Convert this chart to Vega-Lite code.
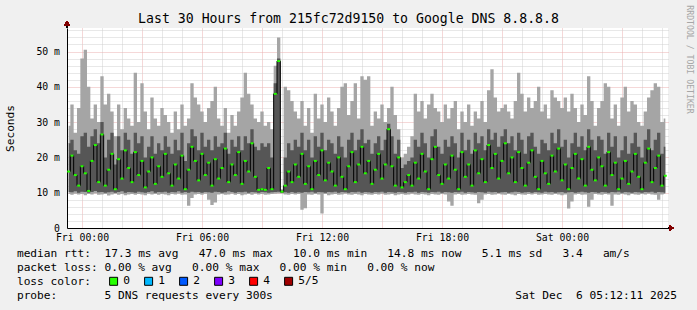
{
"$schema": "https://vega.github.io/schema/vega-lite/v6.json",
"width": 601,
"height": 200,
"autosize": {"type": "none"},
"padding": {"left": 67, "top": 28, "right": 29, "bottom": 82},
"background": "#f0f0f0",
"title": {"text": "Last 30 Hours from 215fc72d9150 to Google DNS 8.8.8.8", "anchor": "middle", "frame": "group", "dx": -19, "offset": -31, "baseline": "alphabetic", "font": "DejaVu Sans Mono", "fontSize": 13.2, "fontWeight": "normal", "color": "#000000"},
"data": {"values": [
{"t":-40,"lo":9.6,"q1":10.2,"md":16,"q3":24,"hi":29},
{"t":-30,"lo":9.4,"q1":10.1,"md":20.5,"q3":25,"hi":35},
{"t":-20,"lo":9.7,"q1":10.4,"md":15,"q3":22,"hi":27},
{"t":-10,"lo":9.5,"q1":10.0,"md":12,"q3":21,"hi":34},
{"t":0,"lo":9.6,"q1":10.3,"md":17.5,"q3":26,"hi":48},
{"t":10,"lo":9.3,"q1":10.2,"md":15.5,"q3":27,"hi":50.5},
{"t":20,"lo":9.6,"q1":10.0,"md":10.5,"q3":23,"hi":40},
{"t":30,"lo":9.5,"q1":10.2,"md":19,"q3":26,"hi":31},
{"t":40,"lo":9.8,"q1":10.5,"md":23.5,"q3":28,"hi":35},
{"t":50,"lo":9.4,"q1":10.1,"md":13,"q3":24,"hi":30},
{"t":60,"lo":9.5,"q1":10.2,"md":26.5,"q3":30,"hi":43},
{"t":70,"lo":9.6,"q1":10.0,"md":12,"q3":20,"hi":35},
{"t":80,"lo":9.2,"q1":10.1,"md":16.5,"q3":25,"hi":38},
{"t":90,"lo":9.5,"q1":10.3,"md":21,"q3":27,"hi":33},
{"t":100,"lo":9.7,"q1":10.0,"md":11,"q3":18,"hi":26},
{"t":110,"lo":9.4,"q1":10.2,"md":19.5,"q3":26,"hi":35},
{"t":120,"lo":9.6,"q1":10.4,"md":14,"q3":22,"hi":28},
{"t":130,"lo":9.3,"q1":10.0,"md":22,"q3":27,"hi":34},
{"t":140,"lo":9.5,"q1":10.2,"md":17,"q3":25,"hi":31},
{"t":150,"lo":9.6,"q1":10.1,"md":13,"q3":21,"hi":29},
{"t":160,"lo":9.4,"q1":10.0,"md":21.5,"q3":27,"hi":44},
{"t":170,"lo":9.6,"q1":10.3,"md":15,"q3":24,"hi":30},
{"t":180,"lo":9.5,"q1":10.1,"md":19,"q3":26,"hi":41},
{"t":190,"lo":9.3,"q1":10.0,"md":11.5,"q3":20,"hi":33},
{"t":200,"lo":9.7,"q1":10.2,"md":16,"q3":23,"hi":28},
{"t":210,"lo":9.5,"q1":10.4,"md":20,"q3":26,"hi":37},
{"t":220,"lo":9.6,"q1":10.0,"md":12.5,"q3":21,"hi":31},
{"t":230,"lo":9.4,"q1":10.2,"md":17.5,"q3":24,"hi":29},
{"t":240,"lo":9.6,"q1":10.1,"md":14.5,"q3":22,"hi":34},
{"t":250,"lo":9.5,"q1":10.3,"md":21,"q3":26,"hi":32},
{"t":260,"lo":9.3,"q1":10.0,"md":15.5,"q3":23,"hi":30},
{"t":270,"lo":9.6,"q1":10.2,"md":12,"q3":21,"hi":27},
{"t":280,"lo":9.5,"q1":10.1,"md":18,"q3":25,"hi":33},
{"t":290,"lo":9.7,"q1":10.4,"md":14,"q3":22,"hi":28},
{"t":300,"lo":9.4,"q1":10.0,"md":20.5,"q3":27,"hi":35},
{"t":310,"lo":9.5,"q1":10.2,"md":11,"q3":19,"hi":29},
{"t":320,"lo":6.3,"q1":10.0,"md":16.5,"q3":24,"hi":31},
{"t":330,"lo":8.5,"q1":10.3,"md":23,"q3":28,"hi":41},
{"t":340,"lo":9.5,"q1":10.1,"md":19,"q3":26,"hi":37},
{"t":350,"lo":9.6,"q1":10.2,"md":13.5,"q3":22,"hi":35},
{"t":360,"lo":9.4,"q1":10.0,"md":21,"q3":27,"hi":33},
{"t":370,"lo":9.7,"q1":10.2,"md":15,"q3":23,"hi":30},
{"t":380,"lo":8.0,"q1":10.1,"md":18.5,"q3":25,"hi":34},
{"t":390,"lo":6.5,"q1":10.0,"md":12,"q3":22,"hi":36},
{"t":400,"lo":7.2,"q1":10.3,"md":19.5,"q3":26,"hi":40},
{"t":410,"lo":9.5,"q1":10.2,"md":14,"q3":23,"hi":31},
{"t":420,"lo":9.6,"q1":10.0,"md":17,"q3":24,"hi":29},
{"t":430,"lo":9.4,"q1":10.1,"md":22.5,"q3":27,"hi":34},
{"t":440,"lo":9.5,"q1":10.4,"md":13,"q3":21,"hi":27},
{"t":450,"lo":9.7,"q1":10.2,"md":18,"q3":25,"hi":32},
{"t":460,"lo":9.4,"q1":10.0,"md":15,"q3":23,"hi":29},
{"t":470,"lo":9.6,"q1":10.2,"md":21.5,"q3":26,"hi":33},
{"t":480,"lo":9.3,"q1":10.1,"md":12.5,"q3":22,"hi":37},
{"t":490,"lo":9.5,"q1":10.3,"md":19,"q3":26,"hi":44},
{"t":500,"lo":9.6,"q1":10.0,"md":16,"q3":24,"hi":38},
{"t":510,"lo":9.4,"q1":10.2,"md":24,"q3":28,"hi":35},
{"t":520,"lo":9.7,"q1":10.1,"md":14.5,"q3":23,"hi":31},
{"t":530,"lo":9.5,"q1":10.0,"md":10.8,"q3":22,"hi":30},
{"t":540,"lo":9.6,"q1":10.2,"md":11,"q3":24,"hi":33},
{"t":550,"lo":9.4,"q1":10.1,"md":10.8,"q3":23,"hi":29},
{"t":560,"lo":9.5,"q1":10.0,"md":17,"q3":24,"hi":30},
{"t":570,"lo":9.6,"q1":10.1,"md":11,"q3":20,"hi":28},
{"t":580,"lo":9.7,"q1":10.2,"md":38,"q3":41,"hi":46},
{"t":590,"lo":9.8,"q1":10.3,"md":47.3,"q3":48,"hi":54},
{"t":600,"lo":9.8,"q1":10.0,"md":10.3,"q3":10.6,"hi":11},
{"t":610,"lo":9.5,"q1":10.1,"md":12,"q3":20,"hi":40},
{"t":620,"lo":9.4,"q1":10.0,"md":16,"q3":24,"hi":39},
{"t":630,"lo":9.6,"q1":10.2,"md":13,"q3":22,"hi":36},
{"t":640,"lo":9.5,"q1":10.0,"md":18,"q3":25,"hi":33},
{"t":650,"lo":9.6,"q1":10.1,"md":14.5,"q3":23,"hi":31},
{"t":660,"lo":5.2,"q1":10.0,"md":21,"q3":27,"hi":36},
{"t":670,"lo":5.6,"q1":10.2,"md":12.5,"q3":22,"hi":29},
{"t":680,"lo":9.5,"q1":10.1,"md":17.5,"q3":25,"hi":34},
{"t":690,"lo":9.4,"q1":10.3,"md":11,"q3":20,"hi":27},
{"t":700,"lo":9.6,"q1":10.0,"md":19,"q3":26,"hi":38},
{"t":710,"lo":9.5,"q1":10.2,"md":15,"q3":23,"hi":31},
{"t":720,"lo":4.1,"q1":10.1,"md":22,"q3":27,"hi":35},
{"t":730,"lo":9.6,"q1":10.0,"md":13.5,"q3":22,"hi":30},
{"t":740,"lo":9.3,"q1":10.2,"md":18.5,"q3":25,"hi":37},
{"t":750,"lo":9.5,"q1":10.1,"md":16,"q3":24,"hi":33},
{"t":760,"lo":9.6,"q1":10.3,"md":12,"q3":21,"hi":29},
{"t":770,"lo":9.4,"q1":10.0,"md":20,"q3":26,"hi":34},
{"t":780,"lo":9.5,"q1":10.2,"md":14.5,"q3":23,"hi":40},
{"t":790,"lo":9.7,"q1":10.1,"md":11,"q3":20,"hi":41},
{"t":800,"lo":9.5,"q1":10.0,"md":17.5,"q3":25,"hi":32},
{"t":810,"lo":9.4,"q1":10.2,"md":21.5,"q3":27,"hi":36},
{"t":820,"lo":9.6,"q1":10.1,"md":13,"q3":22,"hi":41},
{"t":830,"lo":9.5,"q1":10.3,"md":18,"q3":25,"hi":31},
{"t":840,"lo":9.3,"q1":10.0,"md":23,"q3":28,"hi":43},
{"t":850,"lo":9.6,"q1":10.2,"md":15.5,"q3":24,"hi":42},
{"t":860,"lo":9.5,"q1":10.1,"md":19,"q3":25,"hi":43},
{"t":870,"lo":9.4,"q1":10.0,"md":12.5,"q3":21,"hi":29},
{"t":880,"lo":9.6,"q1":10.2,"md":16.5,"q3":24,"hi":33},
{"t":890,"lo":9.5,"q1":10.1,"md":21,"q3":26,"hi":31},
{"t":900,"lo":9.7,"q1":10.3,"md":14,"q3":22,"hi":35},
{"t":910,"lo":9.4,"q1":10.0,"md":18,"q3":25,"hi":30},
{"t":920,"lo":9.5,"q1":10.2,"md":28,"q3":29.5,"hi":34},
{"t":930,"lo":9.6,"q1":10.1,"md":17.5,"q3":26,"hi":40},
{"t":940,"lo":9.3,"q1":10.0,"md":12,"q3":21,"hi":32},
{"t":950,"lo":9.5,"q1":10.2,"md":20,"q3":25,"hi":28},
{"t":960,"lo":9.6,"q1":10.1,"md":11.5,"q3":17,"hi":20},
{"t":970,"lo":9.4,"q1":10.0,"md":13,"q3":18,"hi":21},
{"t":980,"lo":9.5,"q1":10.2,"md":15,"q3":19,"hi":23},
{"t":990,"lo":9.7,"q1":10.1,"md":12,"q3":20,"hi":26},
{"t":1000,"lo":9.5,"q1":10.3,"md":18.5,"q3":25,"hi":38},
{"t":1010,"lo":9.4,"q1":10.0,"md":14,"q3":23,"hi":33},
{"t":1020,"lo":9.6,"q1":10.2,"md":21,"q3":27,"hi":36},
{"t":1030,"lo":9.5,"q1":10.1,"md":16,"q3":24,"hi":31},
{"t":1040,"lo":9.3,"q1":10.0,"md":11,"q3":20,"hi":35},
{"t":1050,"lo":9.6,"q1":10.2,"md":19.5,"q3":26,"hi":38},
{"t":1060,"lo":9.5,"q1":10.1,"md":23,"q3":28,"hi":34},
{"t":1070,"lo":9.4,"q1":10.3,"md":15,"q3":23,"hi":33},
{"t":1080,"lo":9.6,"q1":10.0,"md":12.5,"q3":21,"hi":30},
{"t":1090,"lo":9.5,"q1":10.2,"md":18,"q3":25,"hi":35},
{"t":1100,"lo":7.5,"q1":10.1,"md":14,"q3":23,"hi":31},
{"t":1110,"lo":6.3,"q1":10.0,"md":20.5,"q3":26,"hi":34},
{"t":1120,"lo":9.5,"q1":10.2,"md":16.5,"q3":24,"hi":36},
{"t":1130,"lo":9.6,"q1":10.1,"md":11,"q3":20,"hi":28},
{"t":1140,"lo":9.4,"q1":10.3,"md":21.5,"q3":27,"hi":33},
{"t":1150,"lo":9.5,"q1":10.0,"md":14.5,"q3":22,"hi":30},
{"t":1160,"lo":9.6,"q1":10.2,"md":18,"q3":25,"hi":35},
{"t":1170,"lo":9.5,"q1":10.1,"md":12,"q3":21,"hi":29},
{"t":1180,"lo":9.4,"q1":10.0,"md":22,"q3":27,"hi":33},
{"t":1190,"lo":7.0,"q1":10.2,"md":15.5,"q3":24,"hi":31},
{"t":1200,"lo":8.0,"q1":10.1,"md":19.5,"q3":26,"hi":36},
{"t":1210,"lo":9.5,"q1":10.0,"md":13,"q3":22,"hi":30},
{"t":1220,"lo":9.6,"q1":10.3,"md":23.5,"q3":28,"hi":39},
{"t":1230,"lo":9.4,"q1":10.1,"md":17,"q3":25,"hi":45},
{"t":1240,"lo":9.5,"q1":10.2,"md":21,"q3":27,"hi":37},
{"t":1250,"lo":9.7,"q1":10.0,"md":14,"q3":23,"hi":33},
{"t":1260,"lo":9.5,"q1":10.1,"md":19,"q3":26,"hi":34},
{"t":1270,"lo":9.4,"q1":10.2,"md":24,"q3":28,"hi":35},
{"t":1280,"lo":9.6,"q1":10.0,"md":15.5,"q3":24,"hi":33},
{"t":1290,"lo":9.5,"q1":10.1,"md":20,"q3":26,"hi":31},
{"t":1300,"lo":9.3,"q1":10.3,"md":13,"q3":22,"hi":36},
{"t":1310,"lo":9.6,"q1":10.2,"md":21.5,"q3":27,"hi":44},
{"t":1320,"lo":9.5,"q1":10.0,"md":17,"q3":25,"hi":38},
{"t":1330,"lo":9.4,"q1":10.1,"md":12,"q3":21,"hi":33},
{"t":1340,"lo":9.6,"q1":10.2,"md":18.5,"q3":26,"hi":37},
{"t":1350,"lo":9.5,"q1":10.0,"md":22,"q3":27,"hi":34},
{"t":1360,"lo":9.7,"q1":10.2,"md":14.5,"q3":23,"hi":36},
{"t":1370,"lo":9.4,"q1":10.1,"md":11,"q3":21,"hi":40},
{"t":1380,"lo":9.5,"q1":10.0,"md":19,"q3":25,"hi":33},
{"t":1390,"lo":9.6,"q1":10.3,"md":15.5,"q3":24,"hi":35},
{"t":1400,"lo":9.5,"q1":10.1,"md":12.5,"q3":22,"hi":31},
{"t":1410,"lo":9.4,"q1":10.2,"md":20.5,"q3":27,"hi":39},
{"t":1420,"lo":9.6,"q1":10.0,"md":16,"q3":24,"hi":37},
{"t":1430,"lo":9.5,"q1":10.1,"md":22.5,"q3":28,"hi":36},
{"t":1440,"lo":9.3,"q1":10.2,"md":13.5,"q3":23,"hi":34},
{"t":1450,"lo":9.5,"q1":10.0,"md":18,"q3":25,"hi":37},
{"t":1460,"lo":5.5,"q1":10.1,"md":11,"q3":20,"hi":33},
{"t":1470,"lo":7.5,"q1":10.2,"md":17,"q3":24,"hi":38},
{"t":1480,"lo":9.5,"q1":10.0,"md":21,"q3":27,"hi":34},
{"t":1490,"lo":9.6,"q1":10.1,"md":14,"q3":23,"hi":30},
{"t":1500,"lo":9.4,"q1":10.3,"md":19.5,"q3":26,"hi":35},
{"t":1510,"lo":9.5,"q1":10.1,"md":12,"q3":22,"hi":32},
{"t":1520,"lo":6.0,"q1":10.0,"md":23,"q3":28,"hi":43},
{"t":1530,"lo":8.0,"q1":10.2,"md":16.5,"q3":25,"hi":36},
{"t":1540,"lo":9.6,"q1":10.1,"md":13.5,"q3":22,"hi":29},
{"t":1550,"lo":9.5,"q1":10.0,"md":20,"q3":26,"hi":34},
{"t":1560,"lo":9.4,"q1":10.2,"md":17.5,"q3":25,"hi":36},
{"t":1570,"lo":9.6,"q1":10.1,"md":12,"q3":21,"hi":41},
{"t":1580,"lo":9.5,"q1":10.0,"md":21.5,"q3":27,"hi":40},
{"t":1590,"lo":6.3,"q1":10.2,"md":15,"q3":23,"hi":31},
{"t":1600,"lo":9.5,"q1":10.1,"md":18.5,"q3":26,"hi":35},
{"t":1610,"lo":9.4,"q1":10.3,"md":11,"q3":20,"hi":29},
{"t":1620,"lo":9.6,"q1":10.0,"md":14,"q3":22,"hi":37},
{"t":1630,"lo":9.5,"q1":10.2,"md":19,"q3":26,"hi":40},
{"t":1640,"lo":9.3,"q1":10.1,"md":12.5,"q3":21,"hi":33},
{"t":1650,"lo":9.6,"q1":10.0,"md":16,"q3":24,"hi":36},
{"t":1660,"lo":9.5,"q1":10.2,"md":21,"q3":27,"hi":35},
{"t":1670,"lo":9.4,"q1":10.1,"md":14.5,"q3":23,"hi":30},
{"t":1680,"lo":9.6,"q1":10.0,"md":11,"q3":20,"hi":29},
{"t":1690,"lo":9.5,"q1":10.2,"md":18.5,"q3":25,"hi":33},
{"t":1700,"lo":9.7,"q1":10.1,"md":22.5,"q3":28,"hi":37},
{"t":1710,"lo":9.5,"q1":10.3,"md":13,"q3":22,"hi":39},
{"t":1720,"lo":9.4,"q1":10.0,"md":17,"q3":25,"hi":41},
{"t":1730,"lo":8.0,"q1":10.2,"md":20.5,"q3":27,"hi":40},
{"t":1740,"lo":9.5,"q1":10.1,"md":12,"q3":21,"hi":30},
{"t":1750,"lo":9.6,"q1":10.0,"md":14.8,"q3":23,"hi":31}
]},
"layer": [
  {
    "mark": {"type": "area", "interpolate": "step", "color": "#a5a5a5", "clip": true},
    "encoding": {
      "x": {"field": "t", "type": "quantitative",
        "scale": {"domain": [-45, 1758], "nice": false, "zero": false},
        "axis": {
          "orient": "bottom",
          "values": [0,60,120,180,240,300,360,420,480,540,600,660,720,780,840,900,960,1020,1080,1140,1200,1260,1320,1380,1440,1500,1560,1620,1680,1740],
          "labelExpr": "datum.value == 0 ? 'Fri 00:00' : datum.value == 360 ? 'Fri 06:00' : datum.value == 720 ? 'Fri 12:00' : datum.value == 1080 ? 'Fri 18:00' : datum.value == 1440 ? 'Sat 00:00' : ''",
          "grid": true,
          "gridColor": {"condition": {"test": "datum.value % 180 == 0", "value": "#eab0b0"}, "value": "#d0d0d0"},
          "gridDash": [1, 1],
          "ticks": false,
          "tickSize": 0,
          "labelPadding": 9.5,
          "labelBaseline": "middle",
          "labelFlush": false,
          "labelOverlap": false,
          "domainColor": "#000000",
          "title": [
            "median rtt:\u00a0\u00a017.3 ms avg\u00a0\u00a0\u00a047.0 ms max\u00a0\u00a0\u00a010.0 ms min\u00a0\u00a0\u00a014.8 ms now\u00a0\u00a0\u00a05.1 ms sd\u00a0\u00a0\u00a03.4\u00a0\u00a0\u00a0am/s",
            "packet loss: 0.00 % avg\u00a0\u00a0\u00a00.00 % max\u00a0\u00a0\u00a00.00 % min\u00a0\u00a0\u00a00.00 % now",
            "loss color:",
            "probe:\u00a0\u00a0\u00a0\u00a0\u00a0\u00a0\u00a05 DNS requests every 300s\u00a0\u00a0\u00a0\u00a0\u00a0\u00a0\u00a0\u00a0\u00a0\u00a0\u00a0\u00a0\u00a0\u00a0\u00a0\u00a0\u00a0\u00a0\u00a0\u00a0\u00a0\u00a0\u00a0\u00a0\u00a0\u00a0\u00a0\u00a0\u00a0\u00a0\u00a0\u00a0\u00a0\u00a0\u00a0\u00a0Sat Dec\u00a0\u00a06 05:12:11 2025"
          ],
          "titleX": -50.6,
          "titleY": 19.5,
          "titleAlign": "left",
          "titleBaseline": "top",
          "titleLineHeight": 14,
          "titleFontSize": 11.2
        }
      },
      "y": {"field": "lo", "type": "quantitative",
        "scale": {"domain": [0, 56.66], "nice": false, "zero": false},
        "axis": {
          "orient": "left",
          "values": [0,2,4,6,8,10,12,14,16,18,20,22,24,26,28,30,32,34,36,38,40,42,44,46,48,50,52,54,56],
          "labelExpr": "datum.value % 10 == 0 ? (datum.value == 0 ? '0' : datum.value + ' m') : ''",
          "grid": true,
          "gridColor": {"condition": {"test": "datum.value % 10 == 0", "value": "#eab0b0"}, "value": "#d0d0d0"},
          "gridDash": [1, 1],
          "ticks": false,
          "tickSize": 0,
          "labelPadding": 7.5,
          "labelFlush": false,
          "labelOverlap": false,
          "domainColor": "#000000",
          "title": "Seconds",
          "titleX": -57,
          "titleY": 100,
          "titleAngle": -90,
          "titleAlign": "center",
          "titleBaseline": "middle",
          "titleFontSize": 11.2
        }
      },
      "y2": {"field": "hi"}
    }
  },
  {
    "mark": {"type": "area", "interpolate": "step", "color": "#565656", "clip": true},
    "encoding": {
      "x": {"field": "t", "type": "quantitative", "scale": {"domain": [-45, 1758], "nice": false, "zero": false}, "axis": null},
      "y": {"field": "q1", "type": "quantitative",
        "scale": {"domain": [0, 56.66], "nice": false, "zero": false},
        "axis": {
          "orient": "right",
          "labels": false,
          "ticks": false,
          "domain": false,
          "grid": false,
          "title": "RRDTOOL / TOBI OETIKER",
          "titleAngle": 90,
          "titleX": 20,
          "titleY": 31,
          "titleAlign": "center",
          "titleBaseline": "middle",
          "titleFontSize": 8.2,
          "titleColor": "#a6a6a6"
        }
      },
      "y2": {"field": "q3"}
    }
  },
  {
    "mark": {"type": "line", "interpolate": "step", "color": "#000000", "strokeWidth": 1, "clip": true},
    "encoding": {
      "x": {"field": "t", "type": "quantitative", "scale": {"domain": [-45, 1758], "nice": false, "zero": false}, "axis": null},
      "y": {"field": "md", "type": "quantitative",
        "scale": {"domain": [0, 56.66], "nice": false, "zero": false}, "axis": null}
    }
  },
  {
    "mark": {"type": "tick", "orient": "horizontal", "size": 3, "thickness": 2, "opacity": 1, "clip": true},
    "encoding": {
      "x": {"field": "t", "type": "quantitative", "scale": {"domain": [-45, 1758], "nice": false, "zero": false}, "axis": null},
      "y": {"field": "md", "type": "quantitative",
        "scale": {"domain": [0, 56.66], "nice": false, "zero": false}, "axis": null},
      "color": {"datum": "0", "type": "nominal",
        "scale": {"domain": ["0", "1", "2", "3", "4", "5/5"], "range": ["#26ff00", "#00b8ff", "#0059ff", "#7e00ff", "#ff0000", "#a00000"]},
        "legend": {
          "title": null,
          "orient": "none",
          "legendX": 41,
          "legendY": 247.5,
          "direction": "horizontal",
          "symbolType": "square",
          "symbolSize": 64,
          "symbolStrokeColor": "#000000",
          "symbolStrokeWidth": 1,
          "symbolOpacity": 1,
          "labelFont": "DejaVu Sans Mono",
          "labelFontSize": 11.2,
          "labelColor": "#000000",
          "labelOffset": 4,
          "columnPadding": 12,
          "padding": 0
        }
      }
    }
  },
  {
    "mark": {"type": "rule", "color": "#000000", "strokeWidth": 1},
    "encoding": {
      "x": {"datum": -45, "type": "quantitative", "scale": {"domain": [-45, 1758], "nice": false, "zero": false}, "axis": null},
      "y": {"datum": 56.66, "type": "quantitative", "scale": {"domain": [0, 56.66], "nice": false, "zero": false}, "axis": null},
      "y2": {"datum": 58.2}
    }
  },
  {
    "mark": {"type": "rule", "color": "#000000", "strokeWidth": 1},
    "encoding": {
      "x": {"datum": 1758, "type": "quantitative", "scale": {"domain": [-45, 1758], "nice": false, "zero": false}, "axis": null},
      "x2": {"datum": 1766},
      "y": {"datum": 0, "type": "quantitative", "scale": {"domain": [0, 56.66], "nice": false, "zero": false}, "axis": null}
    }
  },
  {
    "mark": {"type": "point", "shape": "triangle-up", "filled": true, "color": "#800000", "size": 28, "opacity": 1},
    "encoding": {
      "x": {"datum": -45, "type": "quantitative", "scale": {"domain": [-45, 1758], "nice": false, "zero": false}, "axis": null},
      "y": {"datum": 58.0, "type": "quantitative", "scale": {"domain": [0, 56.66], "nice": false, "zero": false}, "axis": null}
    }
  },
  {
    "mark": {"type": "point", "shape": "triangle-right", "filled": true, "color": "#800000", "size": 28, "opacity": 1},
    "encoding": {
      "x": {"datum": 1768, "type": "quantitative", "scale": {"domain": [-45, 1758], "nice": false, "zero": false}, "axis": null},
      "y": {"datum": 0, "type": "quantitative", "scale": {"domain": [0, 56.66], "nice": false, "zero": false}, "axis": null}
    }
  }
],
"resolve": {"axis": {"x": "independent", "y": "independent"}},
"config": {
  "font": "DejaVu Sans Mono",
  "view": {"stroke": null, "fill": "#ffffff"},
  "axis": {
    "labelFont": "DejaVu Sans Mono",
    "labelFontSize": 9.8,
    "labelColor": "#000000",
    "titleFont": "DejaVu Sans Mono",
    "titleFontWeight": "normal",
    "titleColor": "#000000"
  }
}
}
